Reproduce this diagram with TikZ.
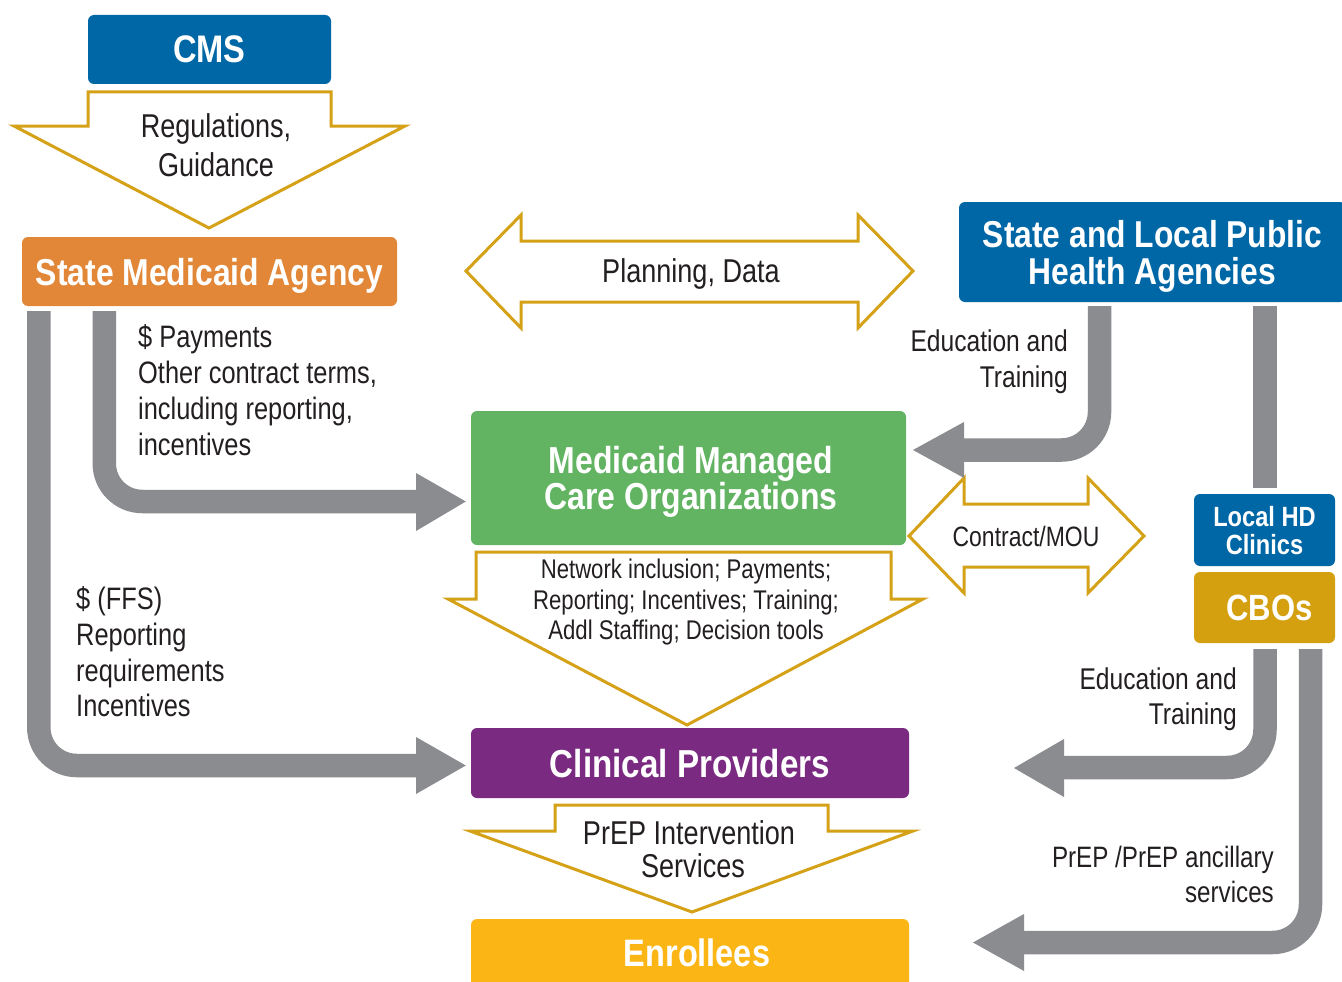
\documentclass[tikz,border=0pt]{standalone}
\usepackage{fontspec}
\setmainfont{Liberation Sans}[FakeStretch=0.82]
\newfontfamily\headfont{Liberation Sans}[FakeStretch=0.85]
\usetikzlibrary{calc}
\definecolor{cmsblue}{RGB}{0,103,166}
\definecolor{smaorange}{RGB}{226,135,56}
\definecolor{mcogreen}{RGB}{98,180,98}
\definecolor{cppurple}{RGB}{123,42,130}
\definecolor{cbogold}{RGB}{212,160,16}
\definecolor{enryellow}{RGB}{251,182,22}
\definecolor{linegold}{RGB}{212,161,23}
\definecolor{arrowgray}{RGB}{139,140,143}
\definecolor{textdark}{RGB}{35,31,32}
\begin{document}
\begin{tikzpicture}[x=1pt,y=-1pt,
  box/.style={rounded corners=6pt, inner sep=0pt, text=white, align=center, text depth=0pt},
  blockarrow/.style={draw=linegold, line width=3pt, fill=white, line join=miter},
  shaft/.style={draw=arrowgray, line width=23.5pt, rounded corners=38pt},
  head/.style={fill=arrowgray},
  lbl/.style={inner sep=0pt, text=textdark}
]
\clip (0,0) rectangle (1342,982);
\useasboundingbox (0,0) rectangle (1342,982);
\fill[white] (0,0) rectangle (1342,982);

% ---------- yellow block arrows ----------
\draw[blockarrow] (88,92) -- (331,92) -- (331,126) -- (405,126) -- (209,228) -- (14,126) -- (88,126) -- cycle;
\draw[blockarrow] (466,271) -- (521,215) -- (521,241) -- (858,241) -- (858,215) -- (913,271) -- (858,328) -- (858,302) -- (521,302) -- (521,328) -- cycle;
\draw[blockarrow] (476,552) -- (891,552) -- (891,599) -- (923,599) -- (687,725) -- (448,599) -- (476,599) -- cycle;
\draw[blockarrow] (909,536) -- (964,478) -- (964,504) -- (1088,504) -- (1088,478) -- (1144,536) -- (1088,593) -- (1088,567) -- (964,567) -- (964,593) -- cycle;
\draw[blockarrow] (555,805) -- (828,805) -- (828,831) -- (913,831) -- (692,912) -- (470,831) -- (555,831) -- cycle;

% ---------- boxes ----------
\node[box, fill=cmsblue, minimum width=243pt, minimum height=69pt,
  font=\headfont\bfseries\fontsize{38.4}{42}\selectfont] (cms) at (209.5,49.5) {\raisebox{1pt}{CMS}};
\node[box, fill=smaorange, minimum width=375pt, minimum height=69pt,
  font=\headfont\bfseries\fontsize{37.5}{42}\selectfont] (sma) at (209.5,271.5) {State Medicaid Agency};
\node[box, fill=cmsblue, minimum width=387pt, minimum height=100pt,
  font=\headfont\bfseries\fontsize{37.4}{37}\selectfont] (ph) at (1152.5,252) {State and Local Public\\Health Agencies};
\node[box, fill=mcogreen, minimum width=435pt, minimum height=134pt,
  font=\headfont\bfseries\fontsize{37.6}{36}\selectfont] (mco) at (688.5,478) {\hspace*{5pt}Medicaid Managed\\\hspace*{5pt}Care Organizations};
\node[box, fill=cmsblue, minimum width=141pt, minimum height=72pt,
  font=\headfont\bfseries\fontsize{27.8}{28}\selectfont] (lhd) at (1264.5,530) {Local HD\\Clinics};
\node[box, fill=cbogold, minimum width=141pt, minimum height=71pt,
  font=\headfont\bfseries\fontsize{36.5}{40}\selectfont] (cbo) at (1264.5,607.5) {\hspace*{10pt}CBOs};
\node[box, fill=cppurple, minimum width=438pt, minimum height=70pt,
  font=\headfont\bfseries\fontsize{39}{40}\selectfont] (cp) at (690,763) {Clinical Providers};
\node[box, fill=enryellow, minimum width=438pt, minimum height=71pt,
  font=\headfont\bfseries\fontsize{38.2}{42}\selectfont] (enr) at (690,954.5) {\hspace*{14pt}\raisebox{3pt}{Enrollees}};

% ---------- block-arrow texts ----------
\node[lbl, align=center, font=\fontsize{33}{39}\selectfont] (regtxt) at (216,145.5) {Regulations,\\Guidance};
\node[lbl, font=\fontsize{33}{39}\selectfont] (plantxt) at (691,273.5) {Planning, Data};
\node[lbl, align=center, font=\fontsize{27}{30.5}\selectfont] (nettxt) at (686,602.5) {Network inclusion; Payments;\\Reporting; Incentives; Training;\\Addl Staffing; Decision tools};
\node[lbl, font=\fontsize{28}{32}\selectfont] (contxt) at (1026,536) {Contract/MOU};
\node[lbl, align=center, font=\fontsize{33}{33}\selectfont] (preptxt) at (689,849) {PrEP Intervention\\\hspace*{8pt}Services};

% ---------- gray arrows ----------
\coordinate (a1s) at ($(sma.south west)+(82.5,5)$);
\coordinate (a1e) at (416,501.5);
\draw[shaft] (a1s) |- (a1e);
\fill[head] (416,473) -- ($(mco.west)+(-5,23.5)$) -- (416,531) -- cycle;

\coordinate (a2s) at ($(sma.south west)+(17,5)$);
\coordinate (a2e) at (416,765.5);
\draw[shaft] (a2s) |- (a2e);
\fill[head] (416,737) -- ($(cp.west)+(-5,2.5)$) -- (416,794) -- cycle;

\coordinate (a3s) at (1099.5,306);
\coordinate (a3e) at (964,450);
\draw[shaft] (a3s) |- (a3e);
\fill[head] (964,422) -- (913,450) -- (964,478) -- cycle;

\coordinate (b1s) at (1265,306);
\coordinate (b1e) at (1265,487.5);
\draw[shaft] (b1s) -- (b1e);

\coordinate (a4s) at (1265,649);
\coordinate (a4e) at (1064,767.5);
\draw[shaft] (a4s) |- (a4e);
\fill[head] (1064,739) -- (1014,768) -- (1064,797) -- cycle;

\coordinate (a5s) at (1310.5,649);
\coordinate (a5e) at (1024,942.5);
\draw[shaft] (a5s) |- (a5e);
\fill[head] (1024,914) -- (973,942.5) -- (1024,971) -- cycle;

% ---------- labels ----------
\node[lbl, anchor=west, align=left, font=\fontsize{31}{36}\selectfont] (paytxt) at (138,390) {\$ Payments\\Other contract terms,\\including reporting,\\incentives};
\node[lbl, anchor=west, align=left, font=\fontsize{31}{35.7}\selectfont] (ffstxt) at (76,652) {\$ (FFS)\\Reporting\\requirements\\Incentives};
\node[lbl, anchor=east, align=right, font=\fontsize{30}{36}\selectfont] (edu1) at (1068,362) {Education and\\Training};
\node[lbl, anchor=east, align=right, font=\fontsize{30}{35}\selectfont] (edu2) at (1237,699) {Education and\\Training};
\node[lbl, anchor=east, align=right, font=\fontsize{29.5}{35}\selectfont] (anc) at (1274,874) {PrEP /PrEP ancillary\\services};
\end{tikzpicture}
\end{document}
